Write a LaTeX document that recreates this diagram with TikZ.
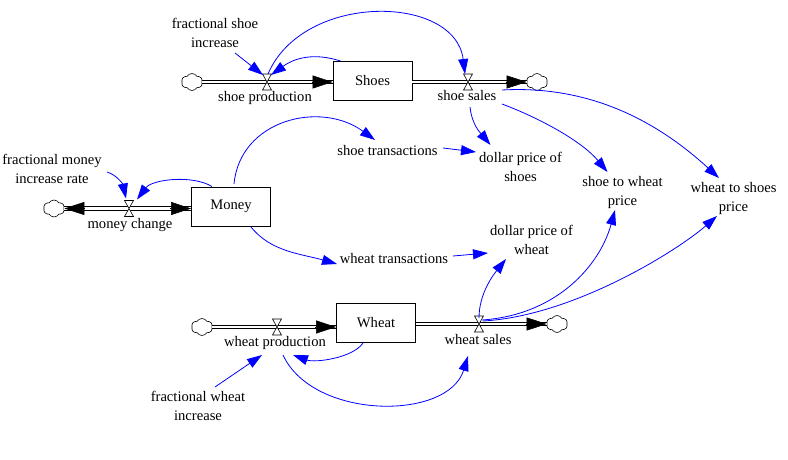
\documentclass[tikz,border=0pt]{standalone}
\usepackage{fontspec}
\setmainfont{Liberation Serif}
\usetikzlibrary{arrows.meta,shapes.symbols}
\definecolor{infblue}{RGB}{0,0,255}
\tikzset{
  x=1pt, y=-1pt,
  lbl/.style={align=center, inner sep=1pt, font=\fontsize{14.6}{19}\selectfont},
  stock/.style={draw, line width=0.8pt, minimum width=79pt, minimum height=39pt, inner sep=0pt, font=\fontsize{14.6}{19}\selectfont},
  cloudsym/.style={cloud, cloud puffs=6, cloud puff arc=120, aspect=1.3, minimum width=21pt, minimum height=17pt, inner sep=0pt, draw, line width=0.6pt},
  pipe/.style={double distance=2.8pt, line width=0.9pt},
  pipehead/.style={-{Triangle[length=20pt,width=13pt]}, line width=0.5pt},
  infl/.style={draw=infblue, line width=0.8pt, -{Triangle[length=15pt,width=10pt]}},
  pics/valvepic/.style={code={\draw[fill=white, line width=0.6pt] (-4.5,-8) -- (4.5,-8) -- (-4.5,8) -- (4.5,8) -- cycle;}}
}
\begin{document}
\begin{tikzpicture}
\useasboundingbox (0,0) rectangle (788,460);
% stocks
\node[stock] (Shoes) at (372.5,80.5) {Shoes};
\node[stock] (Money) at (231,206.5) {Money};
\node[stock] (Wheat) at (376,322.5) {Wheat};
% clouds
\node[cloudsym] (C1) at (192,82) {};
\node[cloudsym] (C2) at (537,82) {};
\node[cloudsym] (C3) at (54,208.5) {};
\node[cloudsym] (C4) at (202,327) {};
\node[cloudsym] (C5) at (557,324) {};
% valves
\coordinate (V1) at (267,82);
\coordinate (V2) at (468,82);
\coordinate (V3) at (129,208.5);
\coordinate (V4) at (277,327);
\coordinate (V5) at (479,324);
% pipes
\draw[pipe] (C1.east) -- (C1.east -| Shoes.west);
\draw[pipehead] ([xshift=-21pt]C1.east -| Shoes.west) -- (C1.east -| Shoes.west);
\draw[pipe] (C2.west -| Shoes.east) -- (C2.west);
\draw[pipehead] ([xshift=-21pt]C2.west) -- (C2.west);
\draw[pipe] (C3.east) -- (C3.east -| Money.west);
\draw[pipehead] ([xshift=-21pt]C3.east -| Money.west) -- (C3.east -| Money.west);
\draw[pipehead] ([xshift=21pt]C3.east) -- (C3.east);
\draw[pipe] (C4.east) -- (C4.east -| Wheat.west);
\draw[pipehead] ([xshift=-21pt]C4.east -| Wheat.west) -- (C4.east -| Wheat.west);
\draw[pipe] (C5.west -| Wheat.east) -- (C5.west);
\draw[pipehead] ([xshift=-21pt]C5.west) -- (C5.west);
\pic at (V1) {valvepic};
\pic at (V2) {valvepic};
\pic at (V3) {valvepic};
\pic at (V4) {valvepic};
\pic at (V5) {valvepic};
% flow labels
\node[lbl] (sp) at (265,98) {shoe production};
\node[lbl] (ss) at (467,96) {shoe sales};
\node[lbl] (mc) at (130,225) {money change};
\node[lbl] (wp) at (275,343) {wheat production};
\node[lbl] (ws) at (478,340) {wheat sales};
% auxiliaries
\node[lbl] (fsi) at (215,33) {fractional shoe\\increase};
\node[lbl] (fmi) at (52,169) {fractional money\\increase rate};
\node[lbl] (fwi) at (198,406) {fractional wheat\\increase};
\node[lbl] (stx) at (387.5,151) {shoe transactions};
\node[lbl] (dps) at (520.5,167) {dollar price of\\shoes};
\node[lbl] (stw) at (622.5,192) {shoe to wheat\\price};
\node[lbl] (wts) at (733.5,198) {wheat to shoes\\price};
\node[lbl] (dpw) at (531.5,240) {dollar price of\\wheat};
\node[lbl] (wtx) at (394,259) {wheat transactions};
% influence arrows
\draw[infl] ([shift={(20,20)}]fsi.center) -- ([shift={(-4,-7)}]V1);
\draw[infl] ([shift={(-32,-19.5)}]Shoes.center) .. controls +(-25,-8) and +(25,-18) .. ([shift={(4,-7)}]V1);
\draw[infl] ([shift={(1,-8)}]V1) .. controls +(35,-82) and +(-10,-80) .. ([shift={(-3,-8)}]V2);
\draw[infl] ([shift={(3,11)}]ss.center) .. controls +(2,18) and +(-10,-12) .. ([shift={(-30,-22)}]dps.center);
\draw[infl] ([shift={(35,8)}]ss.center) .. controls +(40,15) and +(-25,-30) .. ([shift={(-15,-20)}]stw.center);
\draw[infl] ([shift={(35,-6)}]ss.center) .. controls +(90,-5) and +(-60,-55) .. ([shift={(-14.5,-20)}]wts.center);
\draw[infl] ([shift={(55.5,-3)}]stx.center) -- ([shift={(-44.5,-15)}]dps.center);
\draw[infl] ([shift={(3,-22.5)}]Money.center) .. controls +(6,-64) and +(-55,-40) .. ([shift={(-12.5,-11)}]stx.center);
\draw[infl] ([shift={(20,20.5)}]Money.center) .. controls +(20,25) and +(-35,-10) .. ([shift={(-57,5)}]wtx.center);
\draw[infl] ([shift={(59,-3)}]wtx.center) -- ([shift={(-43.5,13)}]dpw.center);
\draw[infl] ([shift={(-19,-20)}]Money.center) .. controls +(-20,-12) and +(15,-20) .. ([shift={(8,-9)}]V3);
\draw[infl] ([shift={(55,3)}]fmi.center) .. controls +(10,3) and +(-3,-14) .. ([shift={(-3,-10)}]V3);
\draw[infl] ([shift={(0,-6)}]V5) .. controls +(0,-25) and +(-12,15) .. ([shift={(-25.5,19)}]dpw.center);
\draw[infl] ([shift={(3,-4)}]V5) .. controls +(75,-5) and +(-15,55) .. ([shift={(-7.5,18)}]stw.center);
\draw[infl] ([shift={(4,-3)}]V5) .. controls +(90,-5) and +(-40,35) .. ([shift={(-16.5,18)}]wts.center);
\draw[infl] ([shift={(-13,20.5)}]Wheat.center) .. controls +(-10,15) and +(22,8) .. ([shift={(18,12)}]wp.center);
\draw[infl] ([shift={(8,12)}]wp.center) .. controls +(30,65) and +(-20,65) .. ([shift={(-10,16)}]ws.center);
\draw[infl] ([shift={(17,-19)}]fwi.center) -- ([shift={(-13,12)}]wp.center);
\end{tikzpicture}
\end{document}
